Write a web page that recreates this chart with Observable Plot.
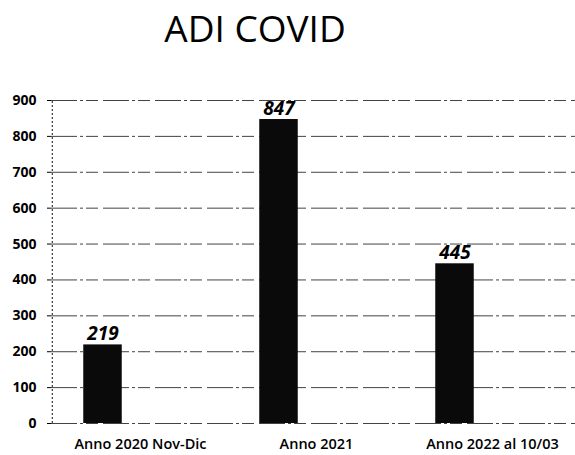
<!DOCTYPE html>
<html><head><meta charset="utf-8">
<script src="https://cdn.jsdelivr.net/npm/d3@7"></script>
<script src="https://cdn.jsdelivr.net/npm/@observablehq/plot@0.6"></script>
<style>
body{margin:0;width:575px;height:455px;overflow:hidden;background:#fff;font-family:"Open Sans",sans-serif;}
#title{height:80px;position:relative;}
#title span{position:absolute;left:255px;top:9px;transform:translateX(-50%);font-size:37px;line-height:37px;color:#000;white-space:nowrap;}
#chart svg{display:block;overflow:hidden;}
</style></head><body>
<div id="title"><span>ADI COVID</span></div>
<div id="chart"></div>
<script>
const categories = ["Anno 2020 Nov-Dic", "Anno 2021", "Anno 2022 al 10/03"];
const values = [219, 847, 445];
const yTicks = [0, 100, 200, 300, 400, 500, 600, 700, 800, 900];

const data = categories.map((c, i) => ({cat: c, val: values[i]}));

const chart = Plot.plot({
  width: 575,
  height: 375,
  marginTop: 20,
  marginBottom: 32,
  marginLeft: 51,
  marginRight: 0,
  style: {background: "#fff", color: "#000", fontFamily: "'Open Sans', sans-serif"},
  x: {type: "band", domain: categories, range: [51, 580.5], padding: 0, label: null},
  y: {domain: [0, 900], label: null},
  marks: [
    Plot.ruleY(yTicks, {stroke: "#222", strokeWidth: 1, strokeDasharray: "26 3 3 3 12 5", strokeOpacity: 0.85}),
    Plot.barY(data, {x: "cat", y: "val", fill: "#0a0a0a", insetLeft: 31.25, insetRight: 106.25}),
    Plot.ruleX([categories[0]], {x: d => d, dx: -88.25, y1: 0, y2: 900, stroke: "#111", strokeDasharray: "2 2"}),
    Plot.axisY({ticks: yTicks, tickSize: 4, tickPadding: 11, fontSize: 14, fontWeight: "bold", label: null}),
    Plot.axisX({tickSize: 0, tickPadding: 15, fontSize: 14.5, fontWeight: 600, label: null}),
    Plot.text(data, {x: "cat", y: "val", text: d => String(d.val), dx: -37.5, dy: -5, lineAnchor: "bottom", fontSize: 19, fontWeight: "bold", fontStyle: "italic", fill: "#000"})
  ]
});
document.getElementById("chart").appendChild(chart);
</script>
</body></html>
